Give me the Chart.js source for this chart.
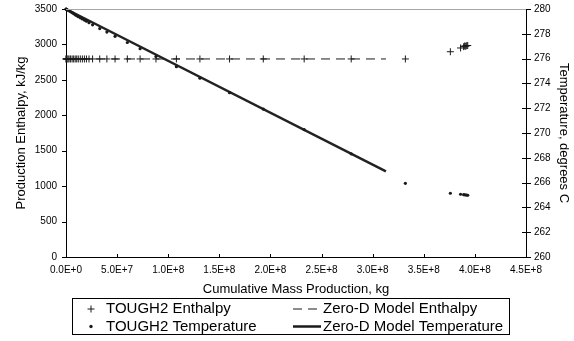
<!DOCTYPE html>
<html>
<head>
<meta charset="utf-8">
<script src="https://cdn.jsdelivr.net/npm/chart.js@4.4.1/dist/chart.umd.min.js"></script>
<style>
  html, body { margin: 0; padding: 0; background: #fff; }
  canvas { display: block; }
</style>
</head>
<body>
<canvas id="chart" width="574" height="341"></canvas>
<script>
// Cumulative mass produced at each TOUGH2 output time, kg
const toughMass = [
  0, 0.2e6, 0.5e6, 1.0e6, 2.0e6, 3.0e6, 4.5e6, 6.0e6, 7.5e6, 9.0e6,
  10.5e6, 12.0e6, 14.0e6, 16.0e6, 18.0e6, 20.0e6, 22.5e6, 26.0e6, 33.0e6, 40.0e6,
  48.0e6, 60.0e6, 72.5e6, 88.0e6, 108e6, 131e6, 160e6, 193e6, 233e6, 279e6,
  332e6, 376e6, 386e6, 389e6, 390e6, 391e6, 392e6, 393e6
];

// TOUGH2 production enthalpy, kJ/kg
const toughEnthalpy = [
  2795, 2795, 2795, 2795, 2795, 2795, 2795, 2795, 2795, 2795,
  2795, 2795, 2795, 2795, 2795, 2795, 2795, 2795, 2795, 2795,
  2795, 2795, 2795, 2795, 2795, 2795, 2795, 2795, 2795, 2795,
  2795, 2897, 2950, 2968, 2978, 2975, 2982, 2985
];

// TOUGH2 production temperature, degrees C
const toughTemperature = [
  280.00, 279.99, 279.97, 279.94, 279.90, 279.85, 279.78, 279.70, 279.62, 279.53,
  279.46, 279.38, 279.29, 279.20, 279.11, 279.02, 278.90, 278.72, 278.42, 278.14,
  277.80, 277.30, 276.80, 276.16, 275.35, 274.42, 273.25, 271.93, 270.28, 268.32,
  265.94, 265.14, 265.06, 265.03, 265.02, 265.00, 265.00, 264.98
];

// Zero-D model results
const modelMass = [0, 3.13e8];
const modelEnthalpy = [2795, 2795];
const modelTemperature = [280.0, 266.9];

// Axis tick labels
const massTickLabels = ['0.0E+0', '5.0E+7', '1.0E+8', '1.5E+8', '2.0E+8', '2.5E+8', '3.0E+8', '3.5E+8', '4.0E+8', '4.5E+8'];
const enthalpyTicks = [0, 500, 1000, 1500, 2000, 2500, 3000, 3500];
const temperatureTicks = [260, 262, 264, 266, 268, 270, 272, 274, 276, 278, 280];

const FONT = '"Liberation Sans", Arial, Helvetica, sans-serif';
Chart.defaults.font.family = FONT;
Chart.defaults.color = '#000';

const pairs = (xs, ys) => xs.map((x, i) => ({ x: x, y: ys[i] }));
const INK = '#1a1a1a';

// Vertical axes: fixed width, and no extra padding above/below the plot
const fixVertical = width => s => {
  s.width = width;
  s.paddingTop = 0;
  s.paddingBottom = 0;
};

// Tick marks: outside on the left axis, crossing on the right axis, inside on the x axis
const tickMarks = {
  id: 'tickMarks',
  afterDraw(chart) {
    const { ctx, chartArea: a, scales } = chart;
    ctx.save();
    ctx.strokeStyle = '#000';
    ctx.lineWidth = 1;
    ctx.beginPath();
    scales.y.ticks.forEach(t => {
      const py = Math.round(scales.y.getPixelForValue(t.value)) + 0.5;
      ctx.moveTo(a.left - 4, py); ctx.lineTo(a.left, py);
    });
    scales.y1.ticks.forEach(t => {
      const py = Math.round(scales.y1.getPixelForValue(t.value)) + 0.5;
      ctx.moveTo(a.right - 4, py); ctx.lineTo(a.right + 5, py);
    });
    scales.x.ticks.forEach(t => {
      const px = Math.round(scales.x.getPixelForValue(t.value)) + 0.5;
      ctx.moveTo(px, a.bottom - 3); ctx.lineTo(px, a.bottom);
    });
    ctx.stroke();
    // light frame line along the top of the plot
    ctx.strokeStyle = '#a6a6a6';
    ctx.beginPath();
    ctx.moveTo(a.left, a.top + 0.5); ctx.lineTo(a.right, a.top + 0.5);
    ctx.stroke();
    ctx.restore();
  }
};

// Boxed two-column legend under the axis title
const boxLegend = {
  id: 'boxLegend',
  afterDraw(chart) {
    const { ctx } = chart;
    const ds = chart.data.datasets;
    const box = { x: 72.5, y: 298.5, w: 437, h: 36 };
    const rows = [309, 326.5];
    const cols = [{ mark: 91, text: 106 }, { mark: 293, text: 323 }];
    ctx.save();
    ctx.strokeStyle = '#000';
    ctx.lineWidth = 1;
    ctx.strokeRect(box.x, box.y, box.w, box.h);
    ctx.font = '15px ' + FONT;
    ctx.fillStyle = '#000';
    ctx.textBaseline = 'middle';
    ctx.textAlign = 'left';
    const place = [[0, 0], [1, 0], [0, 1], [1, 1]];
    ds.forEach((d, i) => {
      const col = cols[place[i][0]];
      const y = rows[place[i][1]];
      ctx.save();
      ctx.strokeStyle = INK;
      ctx.fillStyle = INK;
      if (d.showLine) {
        ctx.lineWidth = d.borderWidth;
        ctx.setLineDash(d.borderDash || []);
        ctx.beginPath();
        ctx.moveTo(col.mark, y);
        ctx.lineTo(col.mark + 28, y);
        ctx.stroke();
      } else if (d.pointStyle === 'cross') {
        ctx.lineWidth = 1;
        ctx.beginPath();
        ctx.moveTo(col.mark - 3.5, y); ctx.lineTo(col.mark + 3.5, y);
        ctx.moveTo(col.mark, y - 3.5); ctx.lineTo(col.mark, y + 3.5);
        ctx.stroke();
      } else {
        ctx.beginPath();
        ctx.arc(col.mark, y, 1.7, 0, Math.PI * 2);
        ctx.fill();
      }
      ctx.restore();
      ctx.fillText(d.label, col.text, y);
    });
    ctx.restore();
  }
};

new Chart(document.getElementById('chart'), {
  type: 'scatter',
  data: {
    datasets: [
      {
        label: 'TOUGH2 Enthalpy',
        data: pairs(toughMass, toughEnthalpy),
        yAxisID: 'y',
        pointStyle: 'cross',
        radius: 3.5,
        borderWidth: 1,
        borderColor: INK,
        backgroundColor: INK,
        showLine: false,
        clip: false,
        order: 2
      },
      {
        label: 'Zero-D Model Enthalpy',
        data: pairs(modelMass, modelEnthalpy),
        yAxisID: 'y',
        showLine: true,
        borderColor: INK,
        borderWidth: 1,
        borderDash: [9, 6],
        pointRadius: 0,
        clip: false,
        order: 3
      },
      {
        label: 'TOUGH2 Temperature',
        data: pairs(toughMass, toughTemperature),
        yAxisID: 'y1',
        pointStyle: 'circle',
        radius: 1.6,
        borderWidth: 0,
        backgroundColor: INK,
        borderColor: INK,
        showLine: false,
        clip: false,
        order: 0
      },
      {
        label: 'Zero-D Model Temperature',
        data: pairs(modelMass, modelTemperature),
        yAxisID: 'y1',
        showLine: true,
        borderColor: '#222',
        borderWidth: 2.5,
        pointRadius: 0,
        clip: false,
        order: 1
      }
    ]
  },
  options: {
    responsive: false,
    animation: false,
    devicePixelRatio: 1,
    layout: { padding: { left: 0, right: 0, top: 9, bottom: 44 } },
    plugins: {
      legend: { display: false },
      tooltip: { enabled: false }
    },
    scales: {
      x: {
        type: 'linear',
        min: 0,
        max: 4.5e8,
        afterBuildTicks(s) { s.ticks = massTickLabels.map((_, i) => ({ value: i * 5e7 })); },
        afterFit(s) { s.height = 40; },
        ticks: {
          callback: (v, i) => massTickLabels[i],
          font: { size: 10 },
          padding: 7,
          maxRotation: 0,
          autoSkip: false
        },
        grid: { drawOnChartArea: false, drawTicks: false },
        border: { color: '#000', width: 1 },
        title: {
          display: true,
          text: 'Cumulative Mass Production, kg',
          font: { size: 13 },
          padding: { top: 0, bottom: 0 }
        }
      },
      y: {
        position: 'left',
        min: 0,
        max: 3500,
        afterBuildTicks(s) { s.ticks = enthalpyTicks.map(v => ({ value: v })); },
        afterFit: fixVertical(66),
        ticks: { callback: v => String(v), font: { size: 10 }, padding: 9 },
        grid: { drawOnChartArea: false, drawTicks: false },
        border: { color: '#000', width: 1 },
        title: {
          display: true,
          text: 'Production Enthalpy, kJ/kg',
          font: { size: 13 },
          padding: { top: 14, bottom: 0 }
        }
      },
      y1: {
        position: 'right',
        min: 260,
        max: 280,
        afterBuildTicks(s) { s.ticks = temperatureTicks.map(v => ({ value: v })); },
        afterFit: fixVertical(48),
        ticks: { callback: v => String(v), font: { size: 10 }, padding: 8 },
        grid: { drawOnChartArea: false, drawTicks: false },
        border: { color: '#000', width: 1 },
        title: {
          display: true,
          text: 'Temperature, degrees C',
          font: { size: 13 },
          padding: { top: 3, bottom: 0 }
        }
      }
    }
  },
  plugins: [tickMarks, boxLegend]
});
</script>
</body>
</html>
